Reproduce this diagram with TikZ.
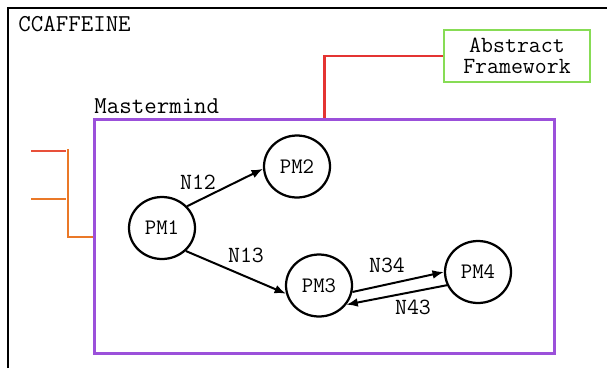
\documentclass[tikz,border=0pt]{standalone}
\usepackage{fontspec}
\usetikzlibrary{arrows.meta,shapes.geometric}

\definecolor{mmpurple}{RGB}{155,80,218}
\definecolor{afgreen}{RGB}{135,220,85}
\definecolor{linkred}{RGB}{228,52,50}
\definecolor{portred}{RGB}{232,80,58}
\definecolor{portorange}{RGB}{234,120,40}

\tikzset{
  pm/.style={ellipse, draw, line width=0.045cm, minimum width=1.32cm, minimum height=1.24cm,
    inner sep=0pt, font=\ttfamily\fontsize{12.6}{14}\selectfont},
  link/.style={-{Latex[length=6.5pt,width=5pt]}, line width=0.04cm},
  lbl/.style={inner sep=0pt, font=\ttfamily\fontsize{13.2}{14}\selectfont},
  title/.style={inner sep=0pt, anchor=base west, font=\ttfamily\fontsize{13.8}{14}\selectfont},
}

\begin{document}
\begin{tikzpicture}[x=0.02cm, y=-0.02cm]

\useasboundingbox (0,0) rectangle (607,368);

% CCAFFEINE frame (runs off the page)
\draw[line width=0.04cm] (8,368) |- (607,8);
\node[title] (ccaf) at (18,32) {CCAFFEINE};

% Mastermind box
\node[draw=mmpurple, line width=0.045cm, minimum width=9.2cm, minimum height=4.68cm,
  inner sep=0pt] (MM) at (324.5,236.5) {};
\node[title] (mmlabel) at (94,113) {Mastermind};

% Abstract Framework
\node[draw=afgreen, line width=0.045cm, minimum width=2.92cm, minimum height=1.04cm,
  align=center, inner sep=0pt, font=\ttfamily\fontsize{13.2}{11.6}\selectfont]
  (AF) at (517,56) {Abstract\\Framework};
\draw[linkred, line width=0.045cm] (AF.west) -| (MM.north);

% ports on the left
\coordinate (bus) at (68,149);
\coordinate (p1a) at (31,151);
\coordinate (p1b) at (66,151);
\coordinate (p2a) at (31,199);
\coordinate (p2b) at (66,199);
\draw[portred, line width=0.04cm] (p1a) -- (p1b);
\draw[portorange, line width=0.04cm] (p2a) -- (p2b);
\draw[portorange, line width=0.04cm] (bus) |- (MM.west);

% processes
\node[pm] (PM1) at (162,228) {PM1};
\node[pm] (PM2) at (297,166.5) {PM2};
\node[pm] (PM3) at (319,285.5) {PM3};
\node[pm] (PM4) at (478,272) {PM4};

\draw[link] (PM1.41) -- (PM2.184);
\draw[link] (PM1.-44) -- (PM3.194);
\draw[link] (PM3.-11) -- (PM4.180);
\draw[link] (PM4.203) -- (PM3.-35);

\node[lbl] (n12) at (198,182) {N12};
\node[lbl] (n13) at (246,255) {N13};
\node[lbl] (n34) at (387,265) {N34};
\node[lbl] (n43) at (413,307) {N43};

\end{tikzpicture}
\end{document}
